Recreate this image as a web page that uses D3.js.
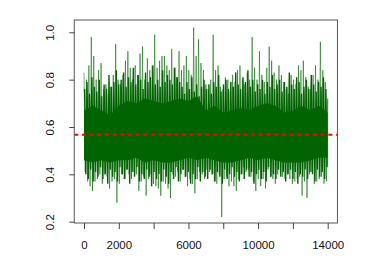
<!DOCTYPE html>
<html>
<head>
<meta charset="utf-8">
<script src="https://cdn.jsdelivr.net/npm/d3@7"></script>
<style>
  body { margin: 0; background: #fff; }
  svg { display: block; }
  text { font-family: "Liberation Sans", Arial, sans-serif; }
</style>
</head>
<body>
<div id="plot"></div>
<script>
// values (series decimated to high/low per ~2.4px column)
const xTicks = [0, 2000, 4000, 6000, 8000, 10000, 12000, 14000];
const xLabels = [0, 2000, 6000, 10000, 14000];
const yTicks = [0.2, 0.4, 0.6, 0.8, 1.0];
const step = 140;
const hiVals = [
  .83, .80, .86, .98, .90, .80, .84, .87, .76, .78, .74, .77, .82, .95, .80, .78, .82,
  .88, .92, .85, .80, .86, .82, .91, .94, .80, .89, .84, .86, .99, .85, .88, .90,
  .90, .86, .84, .93, .85, .81, .92, .84, .86, .90, .84, .82, 1.02, .90, .97, .87, .84,
  .78, .76, .80, .99, .84, .86, .77, .76, .81, .80, .75, .82, .79, .84, .86, .80, .78,
  .83, .80, .98, .85, .80, .92, .82, .79, .85, .94, .88, .83, .80, .86, .82, .79, .76,
  .74, .82, .80, .78, .86, .84, .88, .81, .77, .76, .82, .86, .80, .96, .84, .79, .72
];
const loVals = [
  .41, .37, .35, .33, .37, .38, .40, .36, .40, .39, .34, .37, .38, .28, .36, .40, .38,
  .42, .40, .38, .41, .40, .33, .37, .39, .31, .38, .40, .36, .35, .34, .31, .37,
  .36, .34, .30, .40, .39, .41, .37, .42, .39, .35, .38, .36, .32, .38, .41, .40, .38,
  .42, .41, .40, .37, .36, .40, .22, .38, .39, .35, .37, .35, .33, .38, .40, .43, .41,
  .42, .39, .37, .33, .38, .35, .38, .34, .42, .39, .38, .36, .40, .42, .39, .38, .40,
  .38, .36, .37, .38, .39, .31, .37, .30, .40, .41, .36, .37, .38, .39, .36, .37, .44
];
// second pass of highs/lows between the extremes
const midHi = [
  .76, .79, .74, .81, .77, .75, .80, .73, .78, .76, .82, .77, .79, .84, .78, .80, .83, .77, .81, .79,
  .85, .78, .82, .80, .76, .83, .79, .81, .86, .78, .80, .77, .84, .79, .82, .80, .78, .85, .81, .79,
  .77, .74, .79, .76, .81, .75, .78, .73, .77, .80, .76, .78, .74, .79, .77, .82, .75, .78, .80, .76,
  .79, .77, .83, .78, .76, .81, .79, .84, .77, .80, .75, .78, .76, .80, .74, .79, .77, .82, .76, .78,
  .80, .75, .79, .77, .83, .78, .76, .81, .79, .74, .77, .80, .76, .82, .78, .75, .79, .77, .81, .76
];
const midLo = [
  .40, .38, .42, .37, .41, .39, .43, .38, .40, .36, .42, .39, .41, .37, .43, .40, .38, .42, .36, .41,
  .39, .43, .37, .40, .38, .42, .39, .35, .41, .38, .40, .37, .42, .39, .36, .41, .38, .43, .37, .40,
  .42, .39, .41, .36, .40, .38, .43, .37, .41, .39, .38, .42, .40, .37, .41, .39, .36, .42, .38, .40,
  .43, .39, .41, .37, .40, .38, .42, .39, .41, .36, .40, .42, .38, .41, .37, .43, .39, .40, .38, .42,
  .39, .41, .37, .40, .42, .38, .41, .36, .40, .39, .42, .38, .41, .40, .37, .42, .39, .41, .38, .43
];
// dense band of the series
const coreStep = 500;
const coreHi = [.67, .69, .67, .65, .69, .71, .70, .72, .71, .70, .71, .72, .71, .73, .67,
  .69, .66, .67, .68, .67, .69, .70, .69, .66, .67, .69, .67, .69, .66];
const coreLo = [.46, .45, .46, .45, .46, .46, .47, .45, .46, .45, .45, .46, .47, .46, .47,
  .46, .45, .45, .46, .47, .46, .47, .46, .45, .45, .45, .46, .47, .47];
const meanLevel = 0.567;

const w = 386, h = 277;
const box = {left: 74.25, right: 337.45, top: 20, bottom: 223};

const svg = d3.select("#plot").append("svg")
    .attr("width", w)
    .attr("height", h);

const x = d3.scaleLinear().domain([0, 14000]).range([84, 327.7]);
const y = d3.scaleLinear().domain([0.2, 1.0]).range([221.7, 32.3]);

const line = d3.line().x(d => x(d[0])).y(d => y(d[1]));

// core band
const core = coreHi.map((d, i) => ({x: i * coreStep, hi: d, lo: coreLo[i]}));
svg.append("path")
    .datum(core)
    .attr("fill", "#006400")
    .attr("d", d3.area().x(d => x(d.x)).y0(d => y(d.lo)).y1(d => y(d.hi)));

// zigzag through the extremes
const pts = [];
hiVals.forEach((d, i) => {
  pts.push([i * step, d]);
  pts.push([Math.min(i * step + step / 2, 14000), loVals[i]]);
});
svg.append("path")
    .datum(pts)
    .attr("fill", "none")
    .attr("stroke", "#006400")
    .attr("stroke-opacity", 0.6)
    .attr("stroke-width", 0.9)
    .attr("d", line);

// zigzag through the inner highs/lows
const mid = [];
midHi.forEach((d, i) => {
  mid.push([i * step + step / 4, d]);
  mid.push([i * step + 3 * step / 4, midLo[i]]);
});
svg.append("path")
    .datum(mid)
    .attr("fill", "none")
    .attr("stroke", "#006400")
    .attr("stroke-opacity", 1)
    .attr("stroke-width", 1.4)
    .attr("d", line);

// mean line
svg.append("line")
    .attr("x1", box.left).attr("x2", box.right)
    .attr("y1", y(meanLevel)).attr("y2", y(meanLevel))
    .attr("stroke", "#ff0000")
    .attr("stroke-width", 2)
    .attr("stroke-dasharray", "4,3.7");

// box
svg.append("rect")
    .attr("x", box.left).attr("y", box.top)
    .attr("width", box.right - box.left)
    .attr("height", box.bottom - box.top)
    .attr("fill", "none")
    .attr("stroke", "#555")
    .attr("stroke-width", 1);

const xAxis = d3.axisBottom(x)
    .tickValues(xTicks)
    .tickSize(6)
    .tickFormat(d => xLabels.includes(d) ? d : "");
const gx = svg.append("g")
    .attr("transform", `translate(0, ${box.bottom})`)
    .call(xAxis);
gx.select(".domain").remove();
gx.selectAll("line").attr("stroke", "#444");
gx.selectAll("text")
    .attr("y", 18)
    .attr("dy", "0.71em")
    .attr("font-size", 11.5)
    .attr("fill", "#111")
    .attr("font-family", "Liberation Sans, Arial, sans-serif");

const yAxis = d3.axisLeft(y)
    .tickValues(yTicks)
    .tickSize(5)
    .tickFormat(d3.format(".1f"));
const gy = svg.append("g")
    .attr("transform", `translate(${box.left}, 0)`)
    .call(yAxis);
gy.select(".domain").remove();
gy.selectAll("line").attr("stroke", "#444");
gy.selectAll("text")
    .attr("x", null).attr("dy", null)
    .attr("transform", "translate(-20, 0) rotate(-90)")
    .attr("text-anchor", "middle")
    .attr("font-size", 11.5)
    .attr("fill", "#111")
    .attr("font-family", "Liberation Sans, Arial, sans-serif");
</script>
</body>
</html>
